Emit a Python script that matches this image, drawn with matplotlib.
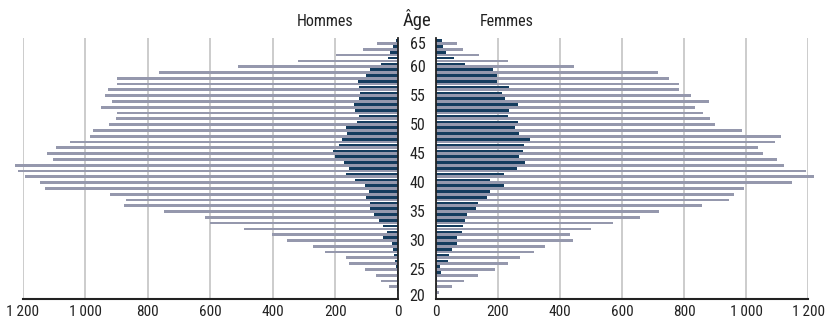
import numpy as np
import matplotlib
matplotlib.use("Agg")
import matplotlib.pyplot as plt
from matplotlib.ticker import FuncFormatter
from matplotlib.transforms import blended_transform_factory

plt.rcParams['font.family'] = ['Roboto Condensed', 'DejaVu Sans']

# ---------------------------------------------------------
# Data (ages 64 down to 21)
# ---------------------------------------------------------
ages = np.arange(64, 20, -1)

hommes_gris = [66, 111, 199, 320, 512, 765, 900, 900, 929, 938,
               916, 951, 898, 903, 925, 977, 987, 1048, 1094, 1122,
               1103, 1227, 1215, 1192, 1144, 1131, 920, 871, 877, 749,
               617, 601, 493, 401, 355, 272, 233, 166, 156, 105,
               70, 54, 28, 3]

hommes_fonce = [5, 14, 25, 31, 53, 89, 101, 126, 124, 121,
                124, 140, 137, 124, 130, 166, 162, 179, 188, 208,
                201, 172, 156, 166, 137, 105, 92, 101, 88, 89,
                76, 60, 47, 34, 47, 18, 15, 12, 9, 5,
                3, 2, 1, 1]

femmes_gris = [68, 87, 138, 232, 444, 715, 750, 782, 782, 821,
               879, 834, 860, 883, 898, 986, 1111, 1093, 1037, 1053,
               1098, 1121, 1191, 1217, 1146, 992, 960, 943, 857, 718,
               657, 570, 499, 432, 441, 352, 317, 270, 232, 191,
               135, 91, 52, 10]

femmes_fonce = [19, 22, 32, 58, 93, 183, 196, 196, 235, 212,
                222, 264, 236, 232, 264, 255, 268, 304, 284, 281,
                268, 288, 261, 220, 175, 220, 175, 165, 135, 130,
                100, 93, 88, 85, 69, 69, 52, 43, 40, 14,
                16, 4, 4, 3]

age_labels = [20, 25, 30, 35, 40, 45, 50, 55, 60, 65]
x_ticks = [0, 200, 400, 600, 800, 1000, 1200]

col_gris = '#9598ad'
col_fonce = '#143c5e'
col_grid = '#c8c8c8'
col_axis = '#222222'
col_text = '#222222'

# ---------------------------------------------------------
# Figure
# ---------------------------------------------------------
W, H = 826, 321
fig = plt.figure(figsize=(W / 100, H / 100), dpi=100)

axL = fig.add_axes([23 / W, 22 / H, 374.7 / W, 260.7 / H])
axR = fig.add_axes([435.7 / W, 22 / H, 372.6 / W, 260.7 / H])

fmt = FuncFormatter(lambda v, p: f"{int(v):,}".replace(",", "\u2009"))

for ax, gris, fonce in [(axL, hommes_gris, hommes_fonce),
                        (axR, femmes_gris, femmes_fonce)]:
    ax.barh(ages + 0.10, gris, height=0.48, color=col_gris, clip_on=False, zorder=2)
    ax.barh(ages + 0.57, fonce, height=0.45, color=col_fonce, clip_on=False, zorder=2)
    ax.set_ylim(20, 65)
    ax.set_xticks(x_ticks)
    ax.xaxis.set_major_formatter(fmt)
    ax.xaxis.grid(True, color=col_grid, lw=1.3)
    ax.set_axisbelow(True)
    ax.set_yticks([])
    ax.tick_params(axis='x', length=0, pad=4, labelsize=11, colors=col_text)
    for s in ax.spines.values():
        s.set_visible(False)
    ax.spines['bottom'].set_visible(True)
    ax.spines['bottom'].set_color(col_axis)
    ax.spines['bottom'].set_linewidth(1.5)
    ax.patch.set_alpha(0)

axL.set_xlim(1200, 0)
axR.set_xlim(0, 1200)

axL.spines['right'].set_visible(True)
axL.spines['right'].set_color(col_axis)
axL.spines['right'].set_linewidth(1.3)
axR.spines['left'].set_visible(True)
axR.spines['left'].set_color(col_axis)
axR.spines['left'].set_linewidth(1.3)

# Age labels in the gap
tr = blended_transform_factory(fig.transFigure, axL.transData)
for a in age_labels:
    y = a
    if a == 65:
        y = 64.0
    elif a == 20:
        y = 20.5
    fig.text(417.5 / W, y, str(a), transform=tr, ha='center', va='center',
             fontsize=11.5, color=col_text)

# Headers
fig.text(325 / W, 1 - 26 / H, "Hommes", ha='center', va='baseline',
         fontsize=11.5, color=col_text)
fig.text(507 / W, 1 - 26 / H, "Femmes", ha='center', va='baseline',
         fontsize=11.5, color=col_text)
fig.text(417.5 / W, 1 - 26 / H, "Âge", ha='center', va='baseline',
         fontsize=13.5, color=col_text)

fig.savefig("out.png", dpi=100)
